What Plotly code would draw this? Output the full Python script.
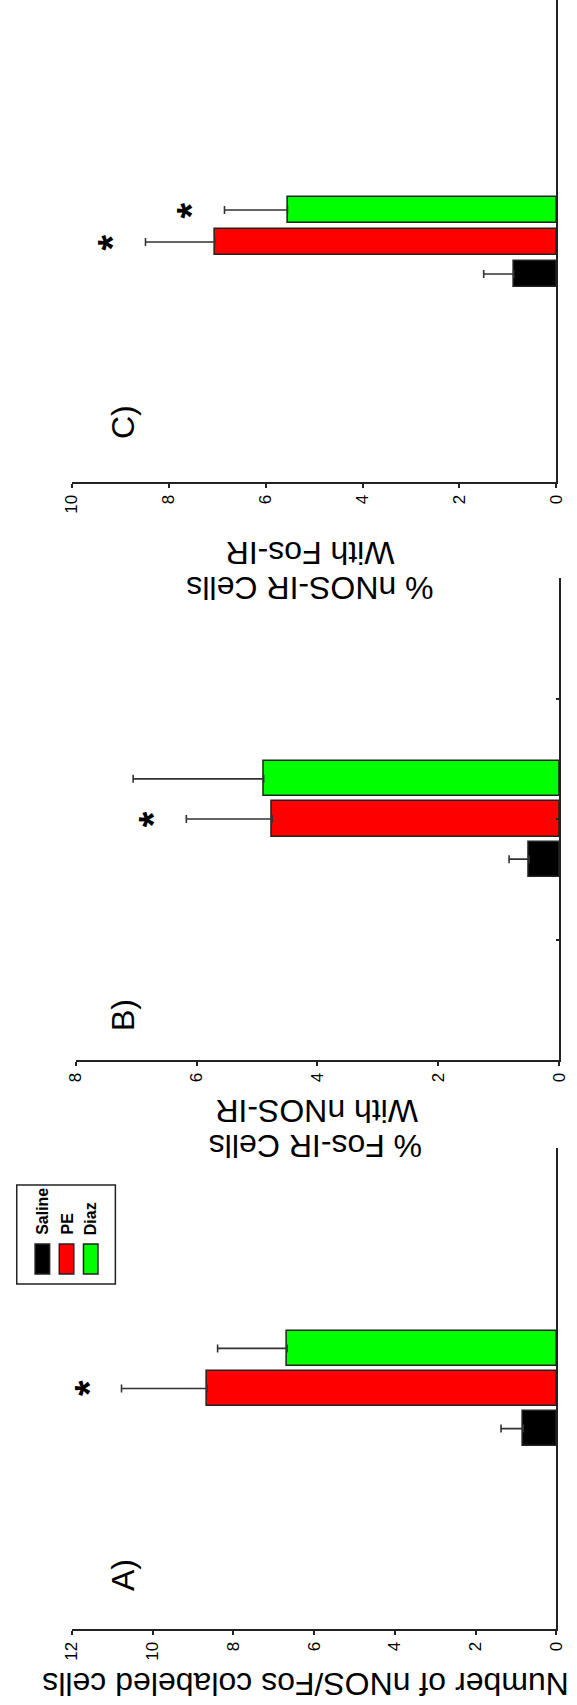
import plotly.graph_objects as go

# ---- data -------------------------------------------------------------
GROUPS = ["Saline", "PE", "Diaz"]
BAR_COLORS = ["#000000", "#ff0000", "#00ff00"]

# Panel A: number of nNOS/Fos co-labeled cells
A_MEAN = [0.82, 8.65, 6.67]
A_SEM = [0.55, 2.12, 1.72]
A_SIG = [False, True, False]

# Panel B: % Fos-IR cells with nNOS-IR
B_MEAN = [0.50, 4.75, 4.89]
B_SEM = [0.33, 1.42, 2.16]
B_SIG = [False, True, False]

# Panel C: % nNOS-IR cells with Fos-IR
C_MEAN = [0.88, 7.05, 5.55]
C_SEM = [0.62, 1.43, 1.30]
C_SIG = [False, True, True]

A_TICKS = [0, 2, 4, 6, 8, 10, 12]
B_TICKS = [0, 2, 4, 6, 8]
C_TICKS = [0, 2, 4, 6, 8, 10]

# ---- page geometry (pixels) --------------------------------------------
W, H = 577, 1705


def px(x):
    return x / W


def py(y):
    return 1 - y / H


LINE = "#222222"
FONT = "Liberation Sans, Arial, sans-serif"
NARROW = "Liberation Sans Narrow, Arial Narrow, Liberation Sans, Arial, sans-serif"

panels = [
    dict(ax="", mean=A_MEAN, sem=A_SEM, sig=A_SIG, xmax=12, ticks=A_TICKS,
         xd=(65, 566), yd=(1148, 1629), yr=[-4, 8], bw=0.875),
    dict(ax="2", mean=B_MEAN, sem=B_SEM, sig=B_SIG, xmax=8, ticks=B_TICKS,
         xd=(69, 569), yd=(578, 1060), yr=[-4, 8], bw=0.875),
    dict(ax="3", mean=C_MEAN, sem=C_SEM, sig=C_SIG, xmax=10, ticks=C_TICKS,
         xd=(65, 566), yd=(0, 482), yr=[-5.5, 9.5625], bw=0.8125),
]

positions = [i + 1 for i in range(len(GROUPS))]

fig = go.Figure()
annotations = []
layout_axes = {}

for p in panels:
    xa = "x" + p["ax"]
    ya = "y" + p["ax"]
    fig.add_trace(go.Bar(
        orientation="h",
        x=p["mean"],
        y=positions,
        width=p["bw"],
        marker=dict(color=BAR_COLORS, line=dict(color=LINE, width=1.5)),
        error_x=dict(type="data", symmetric=False, array=p["sem"],
                     arrayminus=[0] * len(p["sem"]),
                     color="#333333", thickness=1.6, width=4),
        xaxis=xa, yaxis=ya, showlegend=False,
    ))
    # significance markers beyond the error bars
    for pos, m, s, sig in zip(positions, p["mean"], p["sem"], p["sig"]):
        if sig:
            annotations.append(dict(
                x=m + s, y=pos, xref=xa, yref=ya, text="<b>*</b>",
                showarrow=False, textangle=-90, xshift=-33,
                font=dict(family=FONT, size=40, color="#000000"),
                xanchor="center", yanchor="middle",
            ))
    layout_axes["xaxis" + p["ax"]] = dict(
        domain=[px(p["xd"][0]), px(p["xd"][1])],
        range=[p["xmax"], 0], anchor=ya, side="bottom",
        showline=True, linecolor=LINE, linewidth=2,
        ticks="outside", ticklen=4, tickwidth=2, tickcolor=LINE,
        tickvals=p["ticks"], tickangle=-90,
        tickfont=dict(family=NARROW, size=17, color="#000000"),
        showgrid=False, zeroline=False, fixedrange=True,
    )
    layout_axes["yaxis" + p["ax"]] = dict(
        domain=[py(p["yd"][1]), py(p["yd"][0])],
        range=p["yr"], anchor=xa, side="right",
        showline=True, linecolor=LINE, linewidth=2,
        showticklabels=False, showgrid=False, zeroline=False,
        ticks="inside" if p["ax"] == "2" else "", tickvals=[-1, 2, 5],
        ticklen=3, tickwidth=1.5, tickcolor=LINE, fixedrange=True,
    )


# ---- axis titles (upside-down) ---------------------------------------
def title(text, x, y):
    annotations.append(dict(
        x=px(x), y=py(y), xref="paper", yref="paper", text=text,
        showarrow=False, textangle=180, xanchor="center", yanchor="middle",
        font=dict(family=FONT, size=32, color="#000000"),
    ))


title("Number of nNOS/Fos colabeled cells", 307, 1684)
title("% Fos-IR Cells", 317, 1146)
title("With nNOS-IR", 318, 1111)
title("% nNOS-IR Cells", 311, 588)
title("With Fos-IR", 311, 553)

# ---- panel letters ---------------------------------------------------
for letter, y in [("A)", 1575), ("B)", 1015), ("C)", 422)]:
    annotations.append(dict(
        x=px(118), y=py(y), xref="paper", yref="paper", text=letter,
        showarrow=False, textangle=-90, xanchor="center", yanchor="middle",
        font=dict(family=FONT, size=32, color="#000000"),
    ))

# ---- legend (rotated) -----------------------------------------------
shapes = [dict(type="rect", xref="paper", yref="paper",
               x0=px(8), x1=px(110), y0=py(1284), y1=py(1185),
               line=dict(color=LINE, width=1.5), fillcolor="#ffffff")]
swatch_x = [(27, 42), (52, 67), (77, 92)]
for (x0, x1), color, name in zip(swatch_x, BAR_COLORS, GROUPS):
    shapes.append(dict(type="rect", xref="paper", yref="paper",
                       x0=px(x0), x1=px(x1), y0=py(1274), y1=py(1244),
                       line=dict(color=LINE, width=1.5), fillcolor=color))
    annotations.append(dict(
        x=px((x0 + x1) / 2), y=py(1237), xref="paper", yref="paper",
        text="<b>" + name + "</b>", showarrow=False, textangle=-90,
        xanchor="center", yanchor="bottom",
        font=dict(family=NARROW, size=16, color="#000000"),
    ))

fig.update_layout(
    width=W, height=H, margin=dict(l=0, r=0, t=0, b=0),
    paper_bgcolor="#ffffff", plot_bgcolor="#ffffff",
    annotations=annotations, shapes=shapes, bargap=0,
    **layout_axes,
)

fig.write_html("out.html")
